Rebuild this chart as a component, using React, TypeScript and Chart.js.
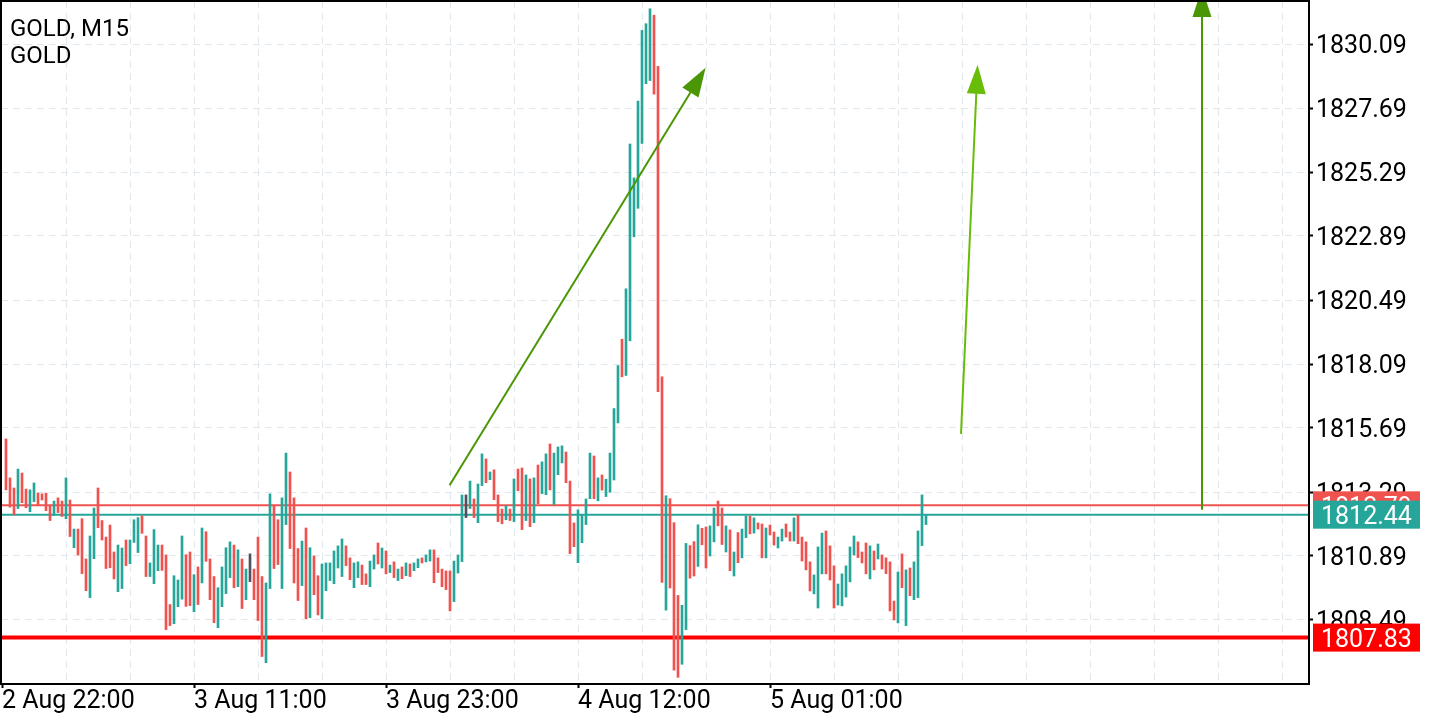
import React, { useEffect, useRef } from "react";
import { Chart, registerables } from "chart.js";

Chart.register(...registerables);

// ---- data (15-minute bars, index 0 = first bar) ----
const highs: number[] = [
  1815.28, 1813.82, 1813.44, 1814.15, 1814.0, 1813.4, 1813.37, 1813.63, 1813.25, 1813.22,
  1813.25, 1812.77, 1812.95, 1813.07, 1812.95, 1813.82, 1812.99, 1811.9, 1811.9, 1812.29,
  1810.78, 1811.64, 1812.69, 1813.44, 1812.22, 1811.6, 1812.05, 1811.04, 1811.3, 1811.19,
  1811.49, 1811.49, 1812.25, 1812.33, 1812.4, 1811.64, 1810.63, 1811.88, 1811.3, 1811.3,
  1810.93, 1809.07, 1810.15, 1809.99, 1811.64, 1810.94, 1811.04, 1810.19, 1810.48, 1811.94,
  1811.8, 1810.78, 1810.12, 1809.7, 1810.48, 1811.2, 1811.42, 1811.3, 1811.12, 1810.78,
  1810.4, 1810.97, 1810.4, 1811.6, 1810.12, 1809.88, 1813.22, 1812.78, 1812.25, 1813.07,
  1814.75, 1814.04, 1813.07, 1811.17, 1811.45, 1811.94, 1811.2, 1810.89, 1810.15, 1810.59,
  1810.63, 1810.63, 1811.08, 1811.27, 1811.53, 1811.27, 1810.82, 1810.63, 1810.67, 1810.55,
  1810.22, 1810.7, 1810.93, 1811.38, 1811.19, 1811.08, 1810.55, 1810.67, 1810.4, 1810.48,
  1810.63, 1810.59, 1810.63, 1810.78, 1810.82, 1810.93, 1811.12, 1811.12, 1810.82, 1810.4,
  1810.33, 1810.33, 1810.7, 1810.93, 1813.18, 1813.18, 1813.7, 1813.03, 1813.59, 1814.72,
  1814.53, 1814.04, 1814.12, 1813.18, 1812.65, 1812.77, 1812.65, 1813.78, 1814.15, 1814.19,
  1813.93, 1813.78, 1813.82, 1814.3, 1814.42, 1814.72, 1815.09, 1814.75, 1814.98, 1815.02,
  1814.79, 1813.7, 1812.13, 1812.62, 1812.43, 1813.03, 1814.75, 1814.64, 1813.82, 1813.93,
  1813.77, 1814.75, 1816.42, 1818.03, 1819.02, 1820.91, 1826.34, 1825.07, 1827.95, 1830.6,
  1830.85, 1831.41, 1831.17, 1829.25, 1817.61, 1813.15, 1813.04, 1812.14, 1809.41, 1809.04,
  1811.36, 1811.28, 1811.43, 1812.06, 1811.93, 1811.98, 1812.02, 1812.69, 1812.95, 1812.69,
  1812.02, 1811.87, 1811.04, 1811.77, 1811.9, 1812.39, 1812.39, 1812.32, 1812.13, 1812.09,
  1811.94, 1812.05, 1811.79, 1811.6, 1811.9, 1812.09, 1811.79, 1812.32, 1812.43, 1811.6,
  1811.42, 1810.67, 1810.18, 1811.23, 1811.75, 1811.83, 1811.27, 1810.52, 1809.84, 1810.22,
  1810.52, 1811.23, 1811.64, 1811.42, 1811.04, 1811.38, 1811.27, 1811.08, 1811.34, 1810.93,
  1810.82, 1810.67, 1809.2, 1810.29, 1810.97, 1810.37, 1810.44, 1810.67, 1811.83, 1813.18, 1812.41,
];

const lows: number[] = [
  1813.37, 1812.72, 1812.43, 1812.67, 1812.89, 1812.7, 1812.55, 1812.93, 1812.79, 1812.99,
  1812.59, 1812.22, 1812.42, 1812.52, 1812.37, 1812.29, 1811.62, 1811.2, 1810.93, 1810.23,
  1809.59, 1809.33, 1810.79, 1811.95, 1811.49, 1810.42, 1810.45, 1810.03, 1809.55, 1809.67,
  1810.53, 1810.6, 1811.4, 1811.02, 1811.74, 1810.12, 1810.12, 1809.85, 1810.34, 1810.35,
  1808.13, 1808.28, 1808.35, 1808.99, 1809.27, 1809.0, 1809.03, 1808.8, 1809.07, 1809.88,
  1810.69, 1809.25, 1808.39, 1808.2, 1808.99, 1809.48, 1810.08, 1809.7, 1809.74, 1808.92,
  1809.25, 1809.93, 1809.25, 1808.47, 1807.12, 1806.89, 1809.67, 1810.42, 1810.57, 1809.67,
  1812.07, 1811.17, 1809.88, 1809.22, 1809.78, 1808.54, 1808.58, 1809.44, 1808.68, 1808.54,
  1809.59, 1809.97, 1809.85, 1810.44, 1810.12, 1810.53, 1810.0, 1809.7, 1810.08, 1809.82,
  1809.82, 1809.74, 1810.4, 1810.59, 1810.44, 1810.22, 1810.27, 1810.08, 1809.97, 1810.04,
  1810.15, 1810.12, 1810.34, 1810.45, 1810.63, 1810.67, 1810.7, 1809.89, 1810.27, 1809.74,
  1809.63, 1808.83, 1809.18, 1810.25, 1810.68, 1812.33, 1812.67, 1812.33, 1812.14, 1813.53,
  1813.64, 1813.75, 1813.0, 1812.18, 1812.1, 1812.25, 1812.22, 1812.18, 1813.34, 1811.88,
  1812.22, 1811.99, 1812.14, 1812.85, 1813.23, 1813.19, 1813.37, 1812.82, 1813.94, 1814.38,
  1813.64, 1810.98, 1811.24, 1810.64, 1811.39, 1812.07, 1813.04, 1813.04, 1812.96, 1813.36,
  1813.12, 1813.28, 1813.74, 1815.88, 1817.61, 1817.66, 1818.96, 1822.86, 1823.93, 1826.36,
  1828.6, 1828.72, 1828.21, 1817.05, 1809.9, 1808.86, 1809.69, 1806.61, 1806.34, 1806.83,
  1808.13, 1810.06, 1810.14, 1810.5, 1811.31, 1810.44, 1810.89, 1811.42, 1812.02, 1811.32,
  1811.04, 1810.34, 1810.14, 1810.64, 1810.82, 1811.58, 1811.72, 1811.75, 1811.9, 1810.82,
  1810.82, 1811.68, 1811.3, 1811.19, 1811.45, 1811.6, 1811.45, 1811.45, 1811.35, 1810.7,
  1810.37, 1809.58, 1809.47, 1808.94, 1810.22, 1810.22, 1809.99, 1808.94, 1809.05, 1809.02,
  1809.35, 1809.92, 1810.93, 1810.83, 1810.63, 1810.22, 1810.03, 1810.37, 1810.78, 1810.4,
  1810.23, 1808.83, 1808.49, 1808.38, 1809.7, 1808.28, 1809.4, 1809.25, 1809.33, 1811.28, 1812.07,
];

// u = up bar, d = down bar, n = unchanged
const directions: string[] = (
  "dddudduudd" + "dduddududd" + "duuddddduu" + "duuudduuud" + "dduuuddudu" +
  "ddduuuudud" + "unddduuddu" + "udddududdu" + "uuuuudduud" + "duudududud" +
  "uduuduuddd" + "dduuunuduu" + "dudddududd" + "ududuuduuu" + "ddduuuudud" +
  "uuuuduuuuu" + "uudddudddu" + "uddudduudd" + "ududuududd" + "udduuddudd" +
  "dduuuddduu" + "uuudddudud" + "dddududuuuu"
).split("");

const priceTicks: number[] = [
  1808.49, 1810.89, 1813.29, 1815.69, 1818.09, 1820.49, 1822.89, 1825.29, 1827.69, 1830.09,
];
const gridBars: number[] = [15, 31, 47, 63, 79, 95, 111, 127, 143, 159, 175, 191, 207, 223, 239, 255, 271, 287, 303, 319];
const timeLabelBars: number[] = [-1, 47, 95, 143, 191];
const timeLabels: string[] = ["2 Aug 22:00", "3 Aug 11:00", "3 Aug 23:00", "4 Aug 12:00", "5 Aug 01:00"];

const askPrice = 1812.79;
const bidPrice = 1812.44;
const levelPrice = 1807.83;

const titleLines: string[] = ["GOLD, M15", "GOLD"];

// arrows drawn on the chart, in (bar index, price) coordinates
const arrowFromBar: number[] = [110.9, 238.75, 299];
const arrowFromPrice: number[] = [1813.54, 1815.47, 1812.62];
const arrowToBar: number[] = [174.9, 242.9, 299];
const arrowToPrice: number[] = [1829.2, 1829.31, 1832.19];
const arrowColors: string[] = ["#4a9604", "#68bd08", "#4a9604"];

const X_MIN = -1.25;
const X_MAX = 325.75;
const Y_MIN = 1806.09;
const Y_MAX = 1831.7025;

const UP = "#26a69a";
const DOWN = "#ef5350";
const FLAT = "#4f525c";
const GRID = "#e0e7ed";
const FONT = "Roboto";
const AXIS_SIZE = 25;

function drawArrow(ctx: CanvasRenderingContext2D, x1: number, y1: number, x2: number, y2: number, color: string) {
  const ang = Math.atan2(y2 - y1, x2 - x1);
  const len = 29;
  const half = 9.5;
  const c = Math.cos(ang);
  const s = Math.sin(ang);
  const bx = x2 - len * c;
  const by = y2 - len * s;
  ctx.strokeStyle = color;
  ctx.lineWidth = 2;
  ctx.beginPath();
  ctx.moveTo(x1, y1);
  ctx.lineTo(bx + c * 2, by + s * 2);
  ctx.stroke();
  ctx.fillStyle = color;
  ctx.beginPath();
  ctx.moveTo(x2, y2);
  ctx.lineTo(bx + half * s, by - half * c);
  ctx.lineTo(bx - half * s, by + half * c);
  ctx.closePath();
  ctx.fill();
}

const overlayPlugin = {
  id: "overlay",
  beforeDatasetsDraw(chart: any) {
    const { ctx, chartArea: a, scales } = chart;
    const y = scales.y;
    const lines: [number, string, number][] = [
      [askPrice, DOWN, 2],
      [bidPrice, UP, 2],
      [levelPrice, "#ff0000", 4],
    ];
    ctx.save();
    for (const [p, col, w] of lines) {
      const py = y.getPixelForValue(p);
      ctx.strokeStyle = col;
      ctx.lineWidth = w;
      ctx.beginPath();
      ctx.moveTo(a.left, py);
      ctx.lineTo(a.right, py);
      ctx.stroke();
    }
    ctx.restore();
  },
  afterDatasetsDraw(chart: any) {
    const { ctx, chartArea: a, scales } = chart;
    ctx.save();
    ctx.beginPath();
    ctx.rect(a.left, a.top, a.right - a.left, a.bottom - a.top);
    ctx.clip();
    for (let i = 0; i < arrowColors.length; i++) {
      drawArrow(
        ctx,
        scales.x.getPixelForValue(arrowFromBar[i]),
        scales.y.getPixelForValue(arrowFromPrice[i]),
        scales.x.getPixelForValue(arrowToBar[i]),
        scales.y.getPixelForValue(arrowToPrice[i]),
        arrowColors[i]
      );
    }
    ctx.restore();
  },
  afterDraw(chart: any) {
    const { ctx, chartArea: a, scales } = chart;
    const y = scales.y;
    ctx.save();
    // frame
    ctx.strokeStyle = "#000";
    ctx.lineWidth = 2;
    ctx.strokeRect(a.left, a.top, a.right - a.left, a.bottom - a.top);

    // price tags
    const tags: [number, string][] = [
      [askPrice, DOWN],
      [bidPrice, UP],
      [levelPrice, "#ff0000"],
    ];
    ctx.font = `${AXIS_SIZE}px ${FONT}`;
    ctx.textBaseline = "alphabetic";
    ctx.textAlign = "left";
    for (const [p, col] of tags) {
      const py = y.getPixelForValue(p);
      ctx.fillStyle = col;
      ctx.fillRect(a.right + 4, py - 14, 107, 28);
      ctx.fillStyle = "#fff";
      ctx.fillText(p.toFixed(2), a.right + 12, py + 9.5);
    }

    // title
    ctx.fillStyle = "#000";
    ctx.textBaseline = "alphabetic";
    ctx.font = `24px ${FONT}`;
    titleLines.forEach((t, i) => ctx.fillText(t, a.left + 9, 36 + i * 27));
    ctx.restore();
  },
};

export default function App() {
  const canvasRef = useRef<HTMLCanvasElement | null>(null);

  useEffect(() => {
    document.body.style.margin = "0";
    const canvas = canvasRef.current;
    if (!canvas) return;

    const data = highs.map((h, i) => ({ x: i, y: [lows[i], h] }));
    const colors = directions.map((d) => (d === "u" ? UP : d === "d" ? DOWN : FLAT));

    const chart = new Chart(canvas, {
      type: "bar",
      data: {
        datasets: [
          {
            data: data as any,
            backgroundColor: colors,
            borderWidth: 0,
            borderSkipped: false,
            barThickness: 2,
          },
        ],
      },
      options: {
        animation: false,
        responsive: true,
        maintainAspectRatio: false,
        devicePixelRatio: 1,
        layout: { padding: { left: 1, top: 1, right: 0, bottom: 0 } },
        plugins: { legend: { display: false }, tooltip: { enabled: false } },
        scales: {
          x: {
            type: "linear",
            min: X_MIN,
            max: X_MAX,
            offset: false,
            afterBuildTicks: (scale: any) => {
              const vals = [...timeLabelBars.filter((v) => !gridBars.includes(v)), ...gridBars].sort((p, q) => p - q);
              scale.ticks = vals.map((v) => ({ value: v }));
            },
            afterFit: (scale: any) => {
              scale.height = 36;
              scale.paddingLeft = 0;
              scale.paddingRight = 0;
            },
            ticks: {
              autoSkip: false,
              maxRotation: 0,
              minRotation: 0,
              align: "start",
              padding: 1,
              color: "#000",
              font: { family: FONT, size: AXIS_SIZE, lineHeight: 1 },
              callback: (v: any) => {
                const k = timeLabelBars.indexOf(Number(v));
                return k >= 0 ? timeLabels[k] : "";
              },
            },
            grid: {
              offset: false,
              color: (c: any) => (c.tick && gridBars.includes(c.tick.value) ? GRID : "rgba(0,0,0,0)"),
              lineWidth: 1,
              tickLength: 4,
              tickWidth: 2,
              tickColor: (c: any) => (c.tick && timeLabelBars.includes(c.tick.value) ? "#000" : "rgba(0,0,0,0)"),
              tickBorderDash: [],
            } as any,
            border: { display: false, dash: [7, 5] },
          },
          y: {
            type: "linear",
            position: "right",
            min: Y_MIN,
            max: Y_MAX,
            beginAtZero: false,
            afterBuildTicks: (scale: any) => {
              scale.ticks = priceTicks.map((v) => ({ value: v }));
            },
            afterFit: (scale: any) => {
              scale.width = 131;
              scale.paddingTop = 0;
              scale.paddingBottom = 0;
            },
            ticks: {
              padding: 3,
              labelOffset: 3,
              color: "#000",
              font: { family: FONT, size: AXIS_SIZE, lineHeight: 1 },
              callback: (v: any) => Number(v).toFixed(2),
            },
            grid: {
              color: GRID,
              lineWidth: 1,
              tickLength: 4,
              tickWidth: 2,
              tickColor: "#000",
              tickBorderDash: [],
            } as any,
            border: { display: false, dash: [7, 5] },
          },
        },
      },
      plugins: [overlayPlugin],
    } as any);

    return () => chart.destroy();
  }, []);

  return (
    <div style={{ position: "fixed", left: 0, top: 0, width: 1440, height: 720, background: "#fff" }}>
      <canvas ref={canvasRef} />
    </div>
  );
}
